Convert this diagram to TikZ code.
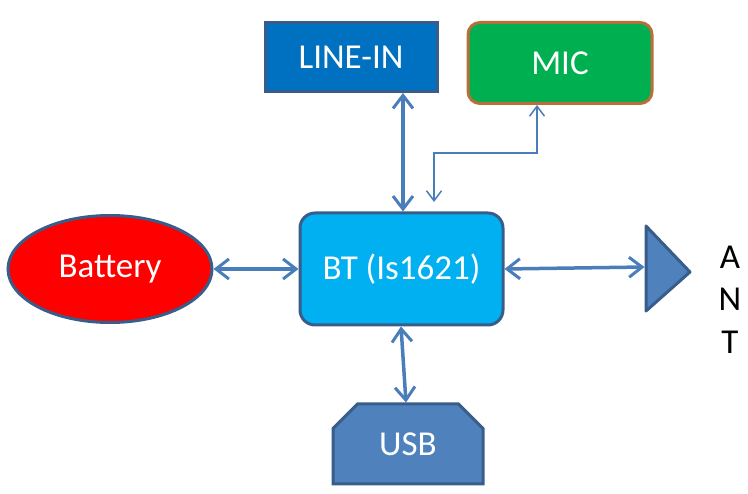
\documentclass[tikz,border=0pt]{standalone}
\usepackage{fontspec}
\setmainfont{Carlito}
\usetikzlibrary{shapes.geometric,shapes.misc,arrows.meta}
\definecolor{bordblue}{HTML}{385D8A}
\definecolor{arrblue}{HTML}{4A7EBB}
\definecolor{linein}{HTML}{0070C0}
\definecolor{micgreen}{HTML}{00B050}
\definecolor{micbord}{HTML}{B7703A}
\definecolor{btcyan}{HTML}{00B0F0}
\definecolor{usbblue}{HTML}{4F81BD}
\definecolor{batred}{HTML}{FF0000}
\tikzset{
  blk/.style={draw=bordblue, line width=3pt, text=white, inner sep=0pt,
    font=\fontsize{35}{42}\selectfont},
  thick arr/.style={draw=arrblue, line width=3.5pt,
    {Straight Barb[length=13pt,width=20pt,line width=3pt]}-{Straight Barb[length=13pt,width=20pt,line width=3pt]}},
  thin arr/.style={draw=arrblue, line width=1.5pt,
    {Straight Barb[length=10pt,width=15pt,line width=1.5pt]}-{Straight Barb[length=10pt,width=15pt,line width=1.5pt]}},
  lettr/.style={font=\fontsize{35}{42}\selectfont, text=black, inner sep=0pt}
}
\begin{document}
\begin{tikzpicture}[x=1pt,y=-1pt]
\useasboundingbox (0,0) rectangle (748,494);
% nodes
\node[blk, fill=linein, minimum width=172pt, minimum height=69pt] (linein) at (351,57) {LINE-IN};
\node[blk, draw=micbord, fill=micgreen, rounded corners=12pt, minimum width=184pt, minimum height=81pt] (mic) at (560,63) {MIC};
\node[blk, fill=btcyan, rounded corners=15pt, minimum width=203pt, minimum height=112pt] (bt) at (401.5,269) {BT (Is1621)};
\node[blk, ellipse, fill=batred, minimum width=204pt, minimum height=107pt] (bat) at (110,269) {Battery};
\node[blk, chamfered rectangle, chamfered rectangle corners={north west,north east},
  chamfered rectangle xsep=13pt, chamfered rectangle ysep=13pt,
  fill=usbblue, minimum width=150pt, minimum height=80pt] (usb) at (408,444) {USB};
% antenna
\draw[draw=bordblue, fill=usbblue, line width=3pt, line join=round] (646,226) -- (690,272) -- (646,311) -- cycle;
\coordinate (ant) at (644.5,267);
\node[lettr] (la) at (730,257) {A};
\node[lettr] (ln) at (730,299) {N};
\node[lettr] (lt) at (730,342) {T};
% connectors
\draw[thick arr] (linein.south -| 403,0) -- (bt.north -| 403,0);
\draw[thick arr] (bat.east) -- (bt.west);
\draw[thick arr] (bt.east) -- (ant);
\draw[thick arr] (bt.south -| 401,0) -- (usb.north -| 406,0);
\coordinate (micdown) at (434,202);
\draw[thin arr] (micdown) |- (537,153) -- (mic.south -| 537,0);
\end{tikzpicture}
\end{document}
